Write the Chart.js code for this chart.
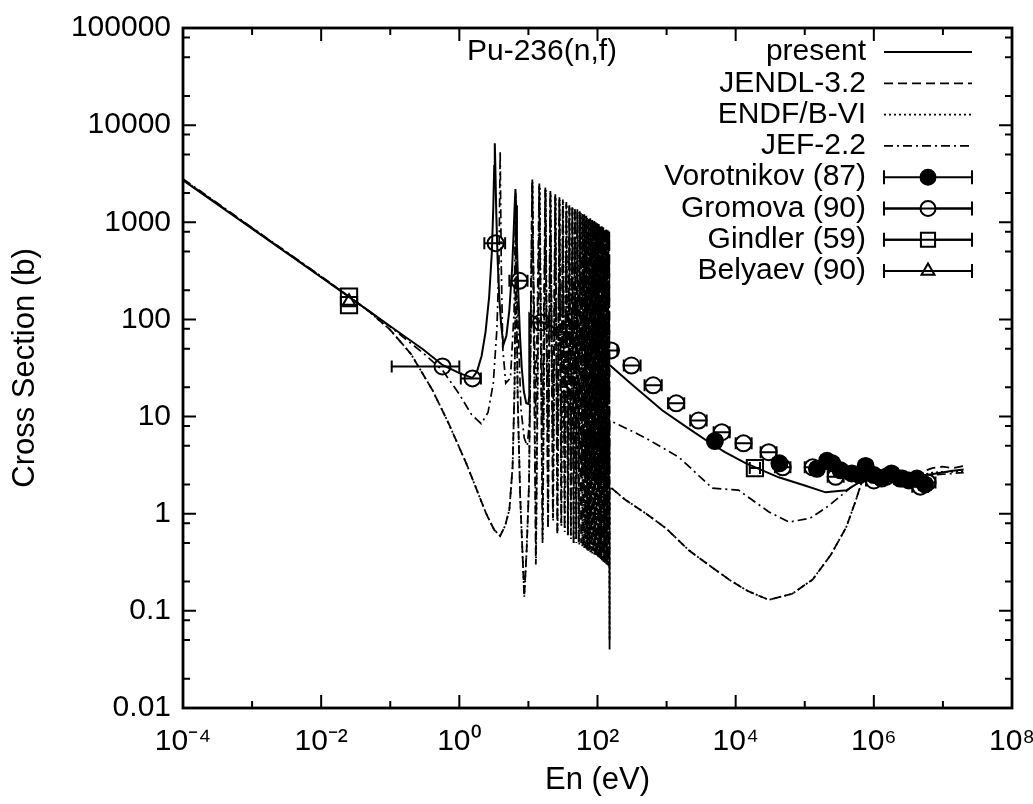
<!DOCTYPE html>
<html>
<head>
<meta charset="utf-8">
<script src="https://cdn.jsdelivr.net/npm/chart.js@4.4.1/dist/chart.umd.min.js"></script>
<style>
html,body{margin:0;padding:0;background:#fff;}
#wrap{width:1033px;height:804px;}
</style>
</head>
<body>
<div id="wrap"><canvas id="c" width="1033" height="804"></canvas></div>
<script>
// ---------------- DATA ----------------
const chartTitle = "Pu-236(n,f)";
const xAxisTitle = "En (eV)";
const yAxisTitle = "Cross Section (b)";

const xTickValues = [1e-4,1e-3,1e-2,1e-1,1e0,1e1,1e2,1e3,1e4,1e5,1e6,1e7,1e8];
const xTickLabels = ["10\u207B\u2074","","10\u207B\u00B2","","10\u2070","","10\u00B2","","10\u2074","","10\u2076","","10\u2078"];
const yTickValues = [0.01,0.1,1,10,100,1000,10000,100000];
const yTickLabels = ["0.01","0.1","1","10","100","1000","10000","100000"];
const yMinorTickValues = [0.02,0.05,0.08,0.2,0.5,0.8,2,5,8,20,50,80,200,500,800,2000,5000,8000,20000,50000,80000];

// [energy (eV), cross section (b)]
const presentCurve = [[1e-4,2700],[1e-3,860],[0.01,272],[0.0253,170],[0.05,121],[0.1,85],[0.3,49],[0.57,34],[1.0,28],[1.55,25],[1.8,29],[2.1,42],[2.4,75],[2.7,170],[2.95,480],[3.1,1400],[3.2,3800],[3.26,6500],[3.32,3800],[3.42,1300],[3.58,420],[3.8,160],[4.05,85],[4.35,55],[4.8,68],[5.3,125],[5.8,330],[6.1,760],[6.35,1600],[6.49,2200],[6.62,1500],[6.82,600],[7.1,210],[7.5,75],[8.0,32],[8.6,18],[9.3,13.7],[10.0,13.5],[10.25,16],[10.3,115],[12,106],[15,95],[20,87],[30,75],[50,61],[80,50],[110,42],[150,34],[300,22],[863,11.6],[2000,7.7],[3730,5.7],[7000,4.3],[14100,3.3],[42000,2.37],[1e5,1.95],[2e5,1.66],[4e5,1.74],[6.8e5,2.2],[1e6,2.35],[2e6,2.35],[4e6,2.4],[8e6,2.6],[1.3e7,2.75],[2e7,2.85]];

const jendlCurve = [[1e-4,2750],[1e-3,870],[0.01,275],[0.0253,172],[0.05,120],[0.1,78],[0.2,44],[0.41,18.6],[0.7,8.5],[1.26,3.3],[2.45,1.0],[3.2,0.68],[3.9,0.59],[4.6,0.75],[5.3,1.1],[5.9,3],[6.3,20],[6.5,200],[6.6,1500],[6.7,200],[7.0,15],[7.6,1.5],[8.2,0.4],[8.7,0.14],[9.4,0.4],[10.2,2],
[11.4,2800],[12.8,0.3],[14.4,2500],[16.0,0.5],[17.6,2280],[19.2,0.7],[20.8,2100],[22.6,0.9],[24.5,1940],[26.2,0.6],[28.1,1810],[29.8,0.8],[31.5,1720],[33.4,0.7],[35.4,1620],[37.2,0.6],[39.1,1540],[41.1,0.6],[43.2,1470],[45.0,0.5],[47.0,1410],[49.0,0.55],[51.1,1360],[53.3,0.5],[55.5,1300],[57.9,0.5],[60.3,1250],[62.3,0.45],[64.4,1210],[66.6,0.45],[68.9,1170],[71.2,0.42],[73.6,1135],[76.1,0.42],[78.7,1100],[81.4,0.4],[84.1,1065],[87.0,0.4],[89.9,1030],[92.1,0.38],[94.4,1005],[96.8,0.37],[99.3,980],[101.8,0.36],[104.4,960],[107.0,0.35],[109.7,935],[112.5,0.34],[115.3,910],[118.3,0.33],[121.3,890],[124.4,0.32],[127.5,865],[130.7,0.31],[134.0,845],[137.4,0.3],[140.9,830],[144.4,0.29],[148.0,805],[149.5,0.04],[150.5,1.9],
[250,1.4],[507,1.0],[1000,0.7],[2100,0.42],[4000,0.3],[8000,0.21],[15000,0.16],[30000,0.13],[66000,0.15],[130000,0.21],[240000,0.38],[400000,0.73],[550000,1.38],[680000,2.2],[800000,2.35],[1.5e6,2.35],[3e6,2.5],[5e6,2.7],[7e6,2.95],[1e7,3.05],[1.4e7,2.95],[2e7,3.1]];

const endfCurve = [[1e-4,2750],[1e-3,870],[0.01,275],[0.0253,172],[0.05,120],[0.1,78],[0.2,44],[0.41,18.6],[0.7,8.5],[1.26,3.3],[2.45,1.0],[3.2,0.68],[3.9,0.59],[4.6,0.75],[5.3,1.1],[5.9,3],[6.3,20],[6.5,200],[6.6,1500],[6.7,200],[7.0,15],[7.6,1.5],[8.2,0.4],[8.7,0.14],[9.4,0.4],[10.2,2],
[11.5,2600],[12.9,0.35],[14.6,2350],[16.1,0.55],[17.8,2150],[19.3,0.75],[21.0,1980],[22.8,0.85],[24.8,1830],[26.4,0.65],[28.4,1700],[30.0,0.75],[31.9,1620],[33.6,0.65],[35.8,1530],[37.4,0.6],[39.5,1450],[41.3,0.55],[43.7,1390],[45.3,0.5],[47.5,1330],[49.3,0.5],[51.7,1280],[54.5,0.48],[57.9,1240],[60.3,0.46],[62.3,1190],[64.4,0.44],[66.6,1150],[68.9,0.43],[71.2,1110],[73.6,0.41],[76.1,1080],[78.7,0.4],[81.4,1050],[84.1,0.39],[87.0,1015],[89.9,0.38],[92.1,985],[94.4,0.37],[96.8,960],[99.3,0.36],[101.8,940],[104.4,0.35],[107.0,915],[109.7,0.34],[112.5,895],[115.3,0.33],[118.3,870],[121.3,0.32],[124.4,850],[127.5,0.31],[130.7,830],[134.0,0.3],[137.4,810],[140.9,0.29],[144.4,790],[148.0,0.28],[149.6,0.05],[150.5,1.9],
[250,1.4],[507,1.0],[1000,0.7],[2100,0.42],[4000,0.3],[8000,0.21],[15000,0.16],[30000,0.13],[66000,0.15],[130000,0.21],[240000,0.38],[400000,0.73],[550000,1.38],[680000,2.2],[800000,2.35],[1.5e6,2.3],[3e6,2.4],[5e6,2.5],[7e6,2.65],[1e7,2.7],[1.4e7,2.7],[2e7,2.75]];

const jefCurve = [[1e-4,2800],[1e-3,880],[0.01,278],[0.0253,172],[0.1,84],[0.3,45],[0.57,30],[1.0,17],[1.5,10.5],[2.07,8.45],[2.6,11],[3.1,22],[3.5,80],[3.75,400],[3.9,5400],[4.05,350],[4.25,51],[4.7,22],[5.5,25],[6.2,120],[6.55,2000],[6.9,150],[7.8,12],[8.7,6],[9.6,5],[10.4,9],
[11.3,2650],[12.8,9.5],[14.3,2380],[16.0,8],[17.5,2170],[19.2,7],[20.7,2000],[22.6,6],[24.4,1840],[26.2,5],[28.0,1720],[29.8,4.5],[31.4,1630],[33.4,4],[35.3,1540],[37.2,3.6],[39.0,1460],[41.1,3.3],[43.1,1400],[45.0,3.0],[46.9,1340],[49.0,2.9],[51.0,1290],[53.3,2.8],[56.7,1240],[59.1,2.7],[61.3,1190],[63.3,2.6],[65.5,1150],[67.7,2.5],[70.0,1110],[72.4,2.5],[74.8,1080],[77.4,2.4],[80.0,1045],[82.7,2.4],[85.5,1010],[88.4,2.3],[91.0,980],[93.2,2.3],[95.6,955],[98.0,2.2],[100.5,930],[103.1,2.2],[105.6,910],[108.3,2.2],[110.9,890],[113.9,2.1],[116.8,865],[119.8,2.1],[122.7,845],[126.0,2.1],[128.9,820],[132.3,2.0],[135.5,800],[139.1,2.0],[142.5,790],[146.2,2.0],[148.3,765],[149.5,2.0],[150.5,9.1],
[300,7.2],[500,6.0],[1520,3.8],[4600,1.83],[11000,1.75],[17000,1.4],[30000,1.05],[59000,0.82],[120000,0.9],[220000,1.2],[480000,1.9],[680000,2.2],[1e6,2.3],[3e6,2.35],[7e6,2.5],[2e7,2.65]];

// [energy, cross section, energy low, energy high]
const vorotnikovPoints = [[5000,5.6,4100,6100],[43000,3.3,35000,52000],[150000,2.9,123000,183000],[210000,3.5,172000,256000],[250000,3.3,205000,305000],[330000,2.8,270000,400000],[480000,2.6,393000,585000],[620000,2.5,510000,760000],[760000,3.1,620000,930000],[1.0e6,2.5,820000,1.22e6],[1.3e6,2.3,1.07e6,1.59e6],[1.8e6,2.6,1.48e6,2.2e6],[2.4e6,2.3,1.97e6,2.93e6],[3.2e6,2.2,2.62e6,3.9e6],[4.2e6,2.3,3.44e6,5.1e6],[5.5e6,2.0,4.5e6,6.7e6]];
const gromovaPoints = [[0.57,32.8,0.105,1.0],[1.55,24.7,1.05,2.05],[3.35,610,2.3,4.6],[7.4,250,5.3,9.7],[15.2,93,11,20],[33,74,21.5,43.6],[157,48,127,194],[310,33.5,240,420],[640,21,480,850],[1380,13.7,1050,1800],[2900,9.1,2200,3800],[6300,6.9,4800,8200],[13000,5.3,10000,17000],[30000,4.3,23000,39000],[48000,3.0,37000,62000],[130000,3.0,100000,170000],[280000,2.4,215000,365000],[1.0e6,2.2,770000,1.3e6],[1.5e6,2.4,1.15e6,1.95e6],[2.6e6,2.3,2.0e6,3.4e6],[4.7e6,1.9,3.6e6,6.1e6],[6.0e6,2.1,4.6e6,7.8e6]];
const gindlerPoints = [[0.0253,172,0.0253,0.0253],[0.0253,140,0.0253,0.0253],[19000,2.95,16000,22500]];
const belyaevPoints = [[0.0253,150,0.0253,0.0253]];

const legendOrder = ["present","JENDL-3.2","ENDF/B-VI","JEF-2.2","Vorotnikov (87)","Gromova (90)","Gindler (59)","Belyaev (90)"];

// ---------------- STYLE / LAYOUT ----------------
const FONT = "'Liberation Sans', Arial, Helvetica, sans-serif";
const FS = 30;
const FS_TITLE = 31;
const LEG = {textRight: 866, x0: 884, x1: 972, y0: 52, dy: 31.3};
const TITLE_POS = {x: 542, y: 52};

const curve = (arr) => arr.map(p => ({x: p[0], y: p[1]}));
const pts = (arr) => arr.map(p => ({x: p[0], y: p[1]}));
const lo = (arr) => arr.map(p => p[2]);
const hi = (arr) => arr.map(p => p[3]);

const lineBase = {showLine: true, pointRadius: 0, borderColor: '#000', backgroundColor: '#000', fill: false, tension: 0, spanGaps: true};
const ptBase = {showLine: false, borderColor: '#000', pointBorderColor: '#000', pointBorderWidth: 2};

const datasets = [
  Object.assign({label: "JEF-2.2", data: curve(jefCurve), borderWidth: 1.7, borderDash: [9,4,2,4]}, lineBase),
  Object.assign({label: "ENDF/B-VI", data: curve(endfCurve), borderWidth: 1.8, borderDash: [2,3]}, lineBase),
  Object.assign({label: "JENDL-3.2", data: curve(jendlCurve), borderWidth: 1.8, borderDash: [9,5]}, lineBase),
  Object.assign({label: "present", data: curve(presentCurve), borderWidth: 2}, lineBase),
  Object.assign({label: "Gindler (59)", data: pts(gindlerPoints), xErrLow: lo(gindlerPoints), xErrHigh: hi(gindlerPoints), pointStyle: 'rect', pointRadius: 11.5, pointBackgroundColor: 'rgba(0,0,0,0)'}, ptBase),
  Object.assign({label: "Belyaev (90)", data: pts(belyaevPoints), xErrLow: lo(belyaevPoints), xErrHigh: hi(belyaevPoints), pointStyle: 'triangle', pointRadius: 8, pointBackgroundColor: 'rgba(0,0,0,0)'}, ptBase),
  Object.assign({label: "Gromova (90)", data: pts(gromovaPoints), xErrLow: lo(gromovaPoints), xErrHigh: hi(gromovaPoints), pointStyle: 'circle', pointRadius: 8, pointBackgroundColor: 'rgba(0,0,0,0)'}, ptBase),
  Object.assign({label: "Vorotnikov (87)", data: pts(vorotnikovPoints), xErrLow: lo(vorotnikovPoints), xErrHigh: hi(vorotnikovPoints), pointStyle: 'circle', pointRadius: 8, pointBackgroundColor: '#000'}, ptBase)
];

// ---------------- PLUGINS ----------------
const errorBarPlugin = {
  id: 'errorBars',
  beforeDatasetsDraw(chart) {
    const {ctx, chartArea: a, scales: {x, y}} = chart;
    ctx.save();
    ctx.beginPath(); ctx.rect(a.left, a.top, a.right - a.left, a.bottom - a.top); ctx.clip();
    ctx.strokeStyle = '#000'; ctx.lineWidth = 2;
    chart.data.datasets.forEach(ds => {
      if (!ds.xErrLow) return;
      ds.data.forEach((p, i) => {
        const l = ds.xErrLow[i], h = ds.xErrHigh[i];
        if (l === h) return;
        const x1 = x.getPixelForValue(l), x2 = x.getPixelForValue(h), py = y.getPixelForValue(p.y);
        ctx.beginPath();
        ctx.moveTo(x1, py); ctx.lineTo(x2, py);
        ctx.moveTo(x1, py - 6); ctx.lineTo(x1, py + 6);
        ctx.moveTo(x2, py - 6); ctx.lineTo(x2, py + 6);
        ctx.stroke();
      });
    });
    ctx.restore();
  }
};

const framePlugin = {
  id: 'frame',
  afterDatasetsDraw(chart) {
    const {ctx, chartArea: a, scales: {x, y}} = chart;
    ctx.save();
    ctx.strokeStyle = '#000';
    ctx.lineWidth = 2;
    ctx.beginPath();
    xTickValues.forEach((v, i) => {
      const px = x.getPixelForValue(v);
      const L = xTickLabels[i] ? 13 : 7;
      ctx.moveTo(px, a.bottom); ctx.lineTo(px, a.bottom - L);
      ctx.moveTo(px, a.top); ctx.lineTo(px, a.top + L);
    });
    yTickValues.forEach(v => {
      const py = y.getPixelForValue(v);
      ctx.moveTo(a.left, py); ctx.lineTo(a.left + 13, py);
      ctx.moveTo(a.right, py); ctx.lineTo(a.right - 13, py);
    });
    yMinorTickValues.forEach(v => {
      const py = y.getPixelForValue(v);
      ctx.moveTo(a.left, py); ctx.lineTo(a.left + 7, py);
      ctx.moveTo(a.right, py); ctx.lineTo(a.right - 7, py);
    });
    ctx.stroke();
    ctx.lineWidth = 2.8;
    ctx.strokeRect(a.left, a.top, a.right - a.left, a.bottom - a.top);
    ctx.restore();
  }
};

const legendPlugin = {
  id: 'customLegend',
  afterDraw(chart) {
    const ctx = chart.ctx;
    ctx.save();
    ctx.fillStyle = '#000'; ctx.strokeStyle = '#000';
    ctx.font = FS + 'px ' + FONT;
    ctx.textBaseline = 'middle';
    ctx.textAlign = 'center';
    ctx.fillText(chartTitle, TITLE_POS.x, TITLE_POS.y);
    ctx.textAlign = 'right';
    legendOrder.forEach((name, i) => {
      const ds = chart.data.datasets.find(d => d.label === name);
      const yy = LEG.y0 + i * LEG.dy;
      ctx.fillStyle = '#000';
      ctx.fillText(name, LEG.textRight, yy);
      if (ds.showLine) {
        ctx.setLineDash(ds.borderDash || []);
        ctx.lineWidth = ds.borderWidth;
        ctx.beginPath(); ctx.moveTo(LEG.x0, yy); ctx.lineTo(LEG.x1, yy); ctx.stroke();
        ctx.setLineDash([]);
      } else {
        ctx.lineWidth = 2;
        ctx.beginPath();
        ctx.moveTo(LEG.x0, yy); ctx.lineTo(LEG.x1, yy);
        ctx.moveTo(LEG.x0, yy - 7); ctx.lineTo(LEG.x0, yy + 7);
        ctx.moveTo(LEG.x1, yy - 7); ctx.lineTo(LEG.x1, yy + 7);
        ctx.stroke();
        const cx = (LEG.x0 + LEG.x1) / 2;
        const filled = ds.pointBackgroundColor === '#000';
        ctx.fillStyle = filled ? '#000' : '#fff';
        Chart.helpers.drawPoint(ctx, {pointStyle: ds.pointStyle, radius: ds.pointStyle === 'rect' ? 10 : 7.5, rotation: 0, borderWidth: 2}, cx, yy);
        if (!filled) { ctx.beginPath(); ctx.moveTo(LEG.x0, yy); ctx.lineTo(LEG.x1, yy); ctx.stroke(); }
      }
    });
    ctx.restore();
  }
};

// ---------------- CHART ----------------
new Chart(document.getElementById('c').getContext('2d'), {
  type: 'scatter',
  data: {datasets},
  options: {
    responsive: false,
    animation: false,
    events: [],
    layout: {padding: {left: 0, top: 28, right: 21, bottom: 0}},
    plugins: {legend: {display: false}, tooltip: {enabled: false}, title: {display: false}},
    scales: {
      x: {
        type: 'logarithmic', min: 1e-4, max: 1e8, position: 'bottom',
        grid: {display: false, drawTicks: false}, border: {display: false},
        ticks: {autoSkip: false, maxRotation: 0, minRotation: 0, padding: 16, color: '#000',
                font: {family: FONT, size: FS}, callback: (v, i) => xTickLabels[i]},
        title: {display: true, text: xAxisTitle, color: '#000', font: {family: FONT, size: FS_TITLE}, padding: {top: 0, bottom: 5}},
        afterBuildTicks: (s) => { s.ticks = xTickValues.map(v => ({value: v})); },
        afterFit: (s) => { s.height = 96; s.paddingLeft = 0; s.paddingRight = 0; }
      },
      y: {
        type: 'logarithmic', min: 0.01, max: 100000, position: 'left',
        grid: {display: false, drawTicks: false}, border: {display: false},
        ticks: {autoSkip: false, padding: 12, color: '#000',
                font: {family: FONT, size: FS}, callback: (v, i) => yTickLabels[i]},
        title: {display: true, text: yAxisTitle, color: '#000', font: {family: FONT, size: FS_TITLE}, padding: {top: 7, bottom: 0}},
        afterBuildTicks: (s) => { s.ticks = yTickValues.map(v => ({value: v})); },
        afterFit: (s) => { s.width = 183; s.paddingTop = 0; s.paddingBottom = 0; }
      }
    }
  },
  plugins: [errorBarPlugin, framePlugin, legendPlugin]
});
</script>
</body>
</html>
